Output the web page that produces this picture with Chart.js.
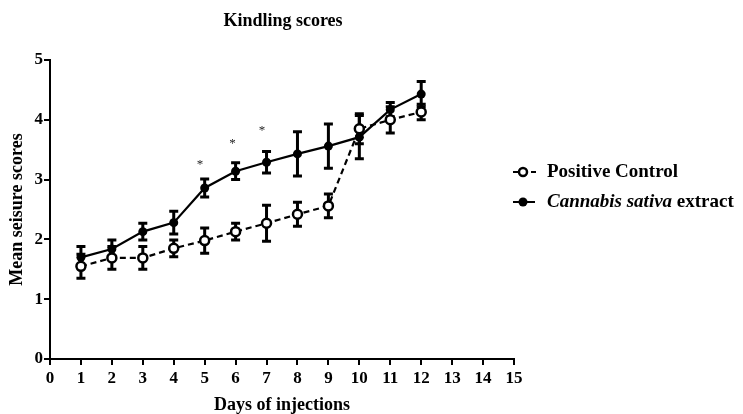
<!DOCTYPE html>
<html>
<head>
<meta charset="utf-8">
<script src="https://cdn.jsdelivr.net/npm/chart.js@4/dist/chart.umd.min.js"></script>
<style>
  html, body { margin: 0; padding: 0; background: #fff; }
  #wrap { width: 743px; height: 414px; position: relative; }
</style>
</head>
<body>
<div id="wrap"><canvas id="c" width="743" height="414"></canvas></div>
<script>
// ---- data ----
const days = [1, 2, 3, 4, 5, 6, 7, 8, 9, 10, 11, 12];
const positiveControl = [1.55, 1.69, 1.69, 1.85, 1.98, 2.13, 2.27, 2.42, 2.56, 3.85, 4.00, 4.13];
const positiveControlErr = [0.20, 0.19, 0.19, 0.14, 0.21, 0.14, 0.30, 0.20, 0.20, 0.25, 0.22, 0.13];
const cannabis = [1.70, 1.84, 2.13, 2.28, 2.86, 3.14, 3.29, 3.43, 3.56, 3.71, 4.17, 4.43];
const cannabisErr = [0.18, 0.15, 0.14, 0.19, 0.15, 0.14, 0.18, 0.37, 0.37, 0.36, 0.12, 0.21];
const sigX = [4.85, 5.9, 6.85];
const sigY = [3.28, 3.63, 3.85];
const xTicks = [0, 1, 2, 3, 4, 5, 6, 7, 8, 9, 10, 11, 12, 13, 14, 15];
const yTicks = [0, 1, 2, 3, 4, 5];
const seriesNames = ['Positive Control', 'Cannabis sativa extract'];

const FONT = "'Liberation Serif', 'DejaVu Serif', serif";

const toPts = (vals) => vals.map((v, i) => ({ x: days[i], y: v }));

const errorBars = {
  id: 'errorBars',
  beforeDatasetsDraw(chart) {
    const ctx = chart.ctx;
    const xs = chart.scales.x, ys = chart.scales.y;
    const errs = [positiveControlErr, cannabisErr];
    const vals = [positiveControl, cannabis];
    ctx.save();
    ctx.strokeStyle = '#000';
    ctx.lineWidth = 3;
    ctx.lineCap = 'butt';
    for (let d = 1; d >= 0; d--) {
      vals[d].forEach((v, i) => {
        const px = xs.getPixelForValue(days[i]);
        const top = ys.getPixelForValue(v + errs[d][i]);
        const bot = ys.getPixelForValue(v - errs[d][i]);
        ctx.beginPath();
        ctx.moveTo(px, top); ctx.lineTo(px, bot);
        ctx.moveTo(px - 4.5, top); ctx.lineTo(px + 4.5, top);
        ctx.moveTo(px - 4.5, bot); ctx.lineTo(px + 4.5, bot);
        ctx.stroke();
      });
    }
    ctx.restore();
  },
  afterDraw(chart) {
    const ctx = chart.ctx;
    const xs = chart.scales.x, ys = chart.scales.y;
    ctx.save();
    // asterisks
    ctx.fillStyle = '#222';
    ctx.font = "13px " + FONT;
    ctx.textAlign = 'center';
    ctx.textBaseline = 'middle';
    sigX.forEach((x, i) => {
      ctx.fillText('*', xs.getPixelForValue(x), ys.getPixelForValue(sigY[i]) + 2);
    });
    // title
    ctx.fillStyle = '#000';
    ctx.font = "bold 18px " + FONT;
    ctx.fillText('Kindling scores', 283, 21);
    // legend
    const lx = 513, ly = [172, 202];
    ctx.strokeStyle = '#000';
    ctx.lineWidth = 2;
    // positive control
    ctx.setLineDash([5, 4]);
    ctx.beginPath(); ctx.moveTo(lx, ly[0]); ctx.lineTo(lx + 24, ly[0]); ctx.stroke();
    ctx.setLineDash([]);
    ctx.beginPath(); ctx.arc(lx + 10, ly[0], 4, 0, Math.PI * 2);
    ctx.fillStyle = '#fff'; ctx.fill(); ctx.lineWidth = 2.5; ctx.stroke();
    // cannabis
    ctx.lineWidth = 2;
    ctx.beginPath(); ctx.moveTo(lx, ly[1]); ctx.lineTo(lx + 22, ly[1]); ctx.stroke();
    ctx.beginPath(); ctx.arc(lx + 10, ly[1], 4.5, 0, Math.PI * 2);
    ctx.fillStyle = '#000'; ctx.fill();
    // texts
    ctx.textAlign = 'left';
    ctx.fillStyle = '#000';
    ctx.font = "bold 19px " + FONT;
    ctx.fillText(seriesNames[0], 547, ly[0]);
    const parts = seriesNames[1].split(' ');
    const ital = parts[0] + ' ' + parts[1];
    ctx.font = "italic bold 19px " + FONT;
    ctx.fillText(ital, 547, ly[1]);
    const w = ctx.measureText(ital + ' ').width;
    ctx.font = "bold 19px " + FONT;
    ctx.fillText(parts.slice(2).join(' '), 547 + w, ly[1]);
    ctx.restore();
  }
};

new Chart(document.getElementById('c'), {
  type: 'line',
  data: {
    datasets: [
      {
        label: seriesNames[0],
        data: toPts(positiveControl),
        borderColor: '#000',
        borderWidth: 2.2,
        borderDash: [6, 4],
        pointRadius: 4.5,
        pointBorderWidth: 2.5,
        pointBackgroundColor: '#fff',
        pointBorderColor: '#000',
        tension: 0
      },
      {
        label: seriesNames[1],
        data: toPts(cannabis),
        borderColor: '#000',
        borderWidth: 2.2,
        pointRadius: 4.5,
        pointBorderWidth: 0,
        pointBackgroundColor: '#000',
        pointBorderColor: '#000',
        tension: 0
      }
    ]
  },
  options: {
    responsive: false,
    animation: false,
    events: [],
    layout: { padding: { left: 0, top: 60, right: 229, bottom: 0 } },
    plugins: { legend: { display: false }, title: { display: false }, tooltip: { enabled: false } },
    scales: {
      x: {
        type: 'linear',
        min: 0, max: 15,
        afterFit(s) { s.height = 55; },
        afterBuildTicks(s) { s.ticks = xTicks.map(v => ({ value: v })); },
        border: { display: true, color: '#000', width: 2 },
        grid: { display: true, drawOnChartArea: false, drawTicks: true, tickLength: 6, color: '#000', lineWidth: 2 },
        ticks: { color: '#000', padding: 3, font: { family: FONT, size: 17, weight: 'bold' }, maxRotation: 0, autoSkip: false },
        title: { display: true, text: 'Days of injections', color: '#000', font: { family: FONT, size: 18, weight: 'bold', lineHeight: 1.0 }, padding: 0 }
      },
      y: {
        min: 0, max: 5,
        afterFit(s) { s.width = 50; },
        afterBuildTicks(s) { s.ticks = yTicks.map(v => ({ value: v })); },
        border: { display: true, color: '#000', width: 2 },
        grid: { display: true, drawOnChartArea: false, drawTicks: true, tickLength: 6, color: '#000', lineWidth: 2 },
        ticks: { color: '#000', padding: 1, font: { family: FONT, size: 17, weight: 'bold' } },
        title: { display: true, text: 'Mean seisure scores', color: '#000', font: { family: FONT, size: 18, weight: 'bold' }, padding: { top: 7 } }
      }
    }
  },
  plugins: [errorBars]
});
</script>
</body>
</html>
